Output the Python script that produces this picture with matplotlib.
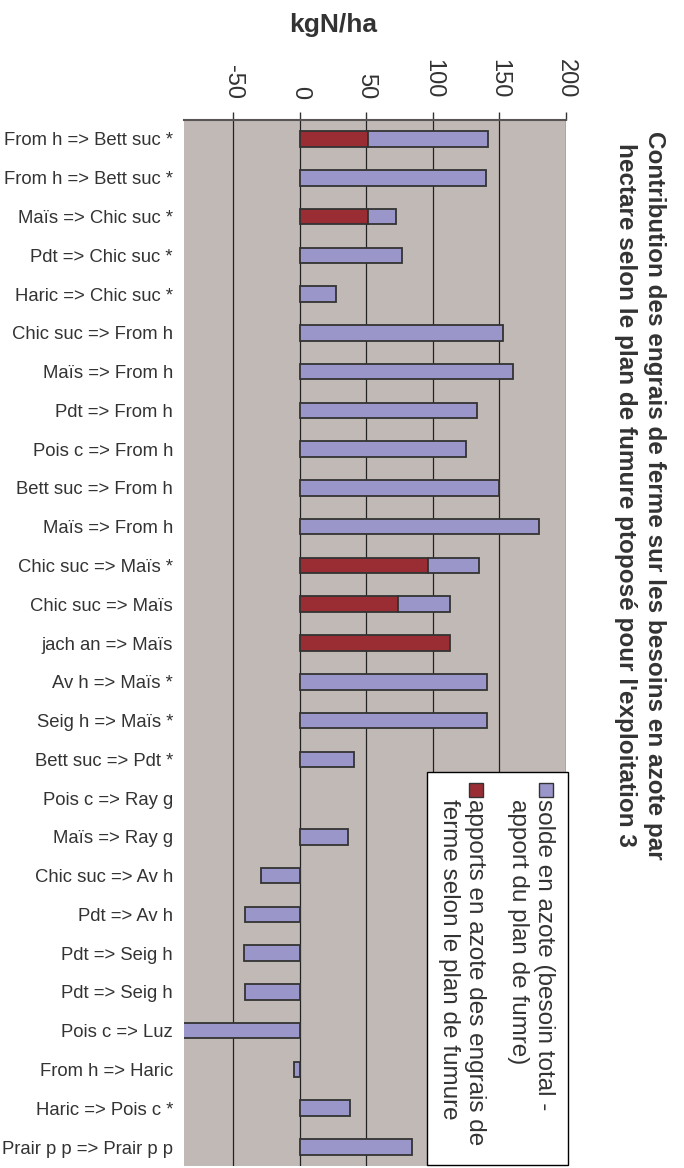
import numpy as np
import matplotlib.pyplot as plt
from matplotlib.patches import Rectangle

plt.rcParams['font.family'] = ['Liberation Sans', 'DejaVu Sans']

# rotations (précédent => culture)
categories = [
    "From h => Bett suc *", "From h => Bett suc *", "Maïs => Chic suc *",
    "Pdt => Chic suc *", "Haric => Chic suc *", "Chic suc => From h",
    "Maïs => From h", "Pdt => From h", "Pois c => From h",
    "Bett suc => From h", "Maïs => From h", "Chic suc => Maïs *",
    "Chic suc => Maïs", "jach an => Maïs", "Av h => Maïs *",
    "Seig h => Maïs *", "Bett suc => Pdt *", "Pois c => Ray g",
    "Maïs => Ray g", "Chic suc => Av h", "Pdt => Av h", "Pdt => Seig h",
    "Pdt => Seig h", "Pois c => Luz", "From h => Haric",
    "Haric => Pois c *", "Prair p p => Prair p p",
]

# kgN/ha apportés par les engrais de ferme
apports = np.array([51, 0, 51, 0, 0, 0, 0, 0, 0, 0, 0, 96, 73.5, 113,
                    0, 0, 0, 0, 0, 0, 0, 0, 0, 0, 0, 0, 0])
# solde = besoin total - apport du plan de fumure
solde = np.array([90.5, 140, 21.5, 76.5, 27, 153, 160.5, 133.5, 125, 150,
                  180, 39, 39, 0, 141, 141, 41, 0, 36.5, -29, -41, -42,
                  -41, -95, -4.5, 37.5, 84])

ticks = [-50, 0, 50, 100, 150, 200]

bg = '#c1b9b6'
purple = '#9a96c9'
red = '#992d33'
edge = '#333333'
txt = '#333333'

W, H = 684, 1168
fig = plt.figure(figsize=(W / 100, H / 100), dpi=100)
ax = fig.add_axes([184 / W, 1 - 1166.4 / H, (566 - 184) / W, (1166.4 - 119.6) / H])
ax.set_facecolor(bg)

y = np.arange(len(categories))
h = 0.4

r = apports > 0
ax.barh(y[r], apports[r], height=h, color=red, edgecolor=edge, linewidth=1.3, zorder=3)
s = solde != 0
ax.barh(y[s], solde[s], left=apports[s], height=h, color=purple,
        edgecolor=edge, linewidth=1.3, zorder=3)

ax.set_xlim(-87, 200)
ax.set_ylim(len(categories) - 0.5, -0.5)

ax.set_xticks(ticks)
ax.set_xticklabels([str(t) for t in ticks], rotation=-90, fontsize=17, color=txt)
ax.xaxis.tick_top()
ax.tick_params(axis='x', direction='out', length=6, width=1, color=edge, pad=9)
ax.grid(axis='x', color='#222222', linewidth=0.9, zorder=1)

ax.set_yticks(y)
ax.set_yticklabels(categories, fontsize=13.3, color=txt)
ax.tick_params(axis='y', length=0, pad=8)

for side in ['left', 'right', 'bottom']:
    ax.spines[side].set_visible(False)
ax.spines['top'].set_color('#5a5555')
ax.spines['top'].set_linewidth(1.5)

fig.text(333 / W, 1 - 25 / H, "kgN/ha", fontsize=19, fontweight='bold',
         color=txt, ha='center', va='center')

fig.text(640 / W, 1 - 495 / H,
         "Contribution des engrais de ferme sur les besoins en azote par\n"
         "hectare selon le plan de fumure ptoposé pour l'exploitation 3",
         fontsize=17.5, fontweight='bold', color=txt, rotation=-90,
         ha='center', va='center', multialignment='center', linespacing=1.3)

# légende dessinée à la main (texte vertical)
fig.patches.append(Rectangle((427 / W, 1 - 1165 / H), (568 - 427) / W, (1165 - 772) / H,
                             transform=fig.transFigure, facecolor='white',
                             edgecolor='black', linewidth=1, zorder=5))
legend_items = [
    (purple, 546, 531, "solde en azote (besoin total -\napport du plan de fumre)"),
    (red, 476, 462, "apports en azote des engrais de\nferme selon le plan de fumure"),
]
for col, xs, xt, label in legend_items:
    fig.patches.append(Rectangle(((xs - 7) / W, 1 - 797 / H), 14 / W, 14 / H,
                                 transform=fig.transFigure, facecolor=col,
                                 edgecolor=edge, linewidth=1, zorder=6))
    fig.text(xt / W, 1 - 799 / H, label, fontsize=17.5, color=txt, rotation=-90,
             rotation_mode='anchor', ha='left', va='center',
             multialignment='left', linespacing=1.25, zorder=7)

fig.savefig("out.png", dpi=100)
